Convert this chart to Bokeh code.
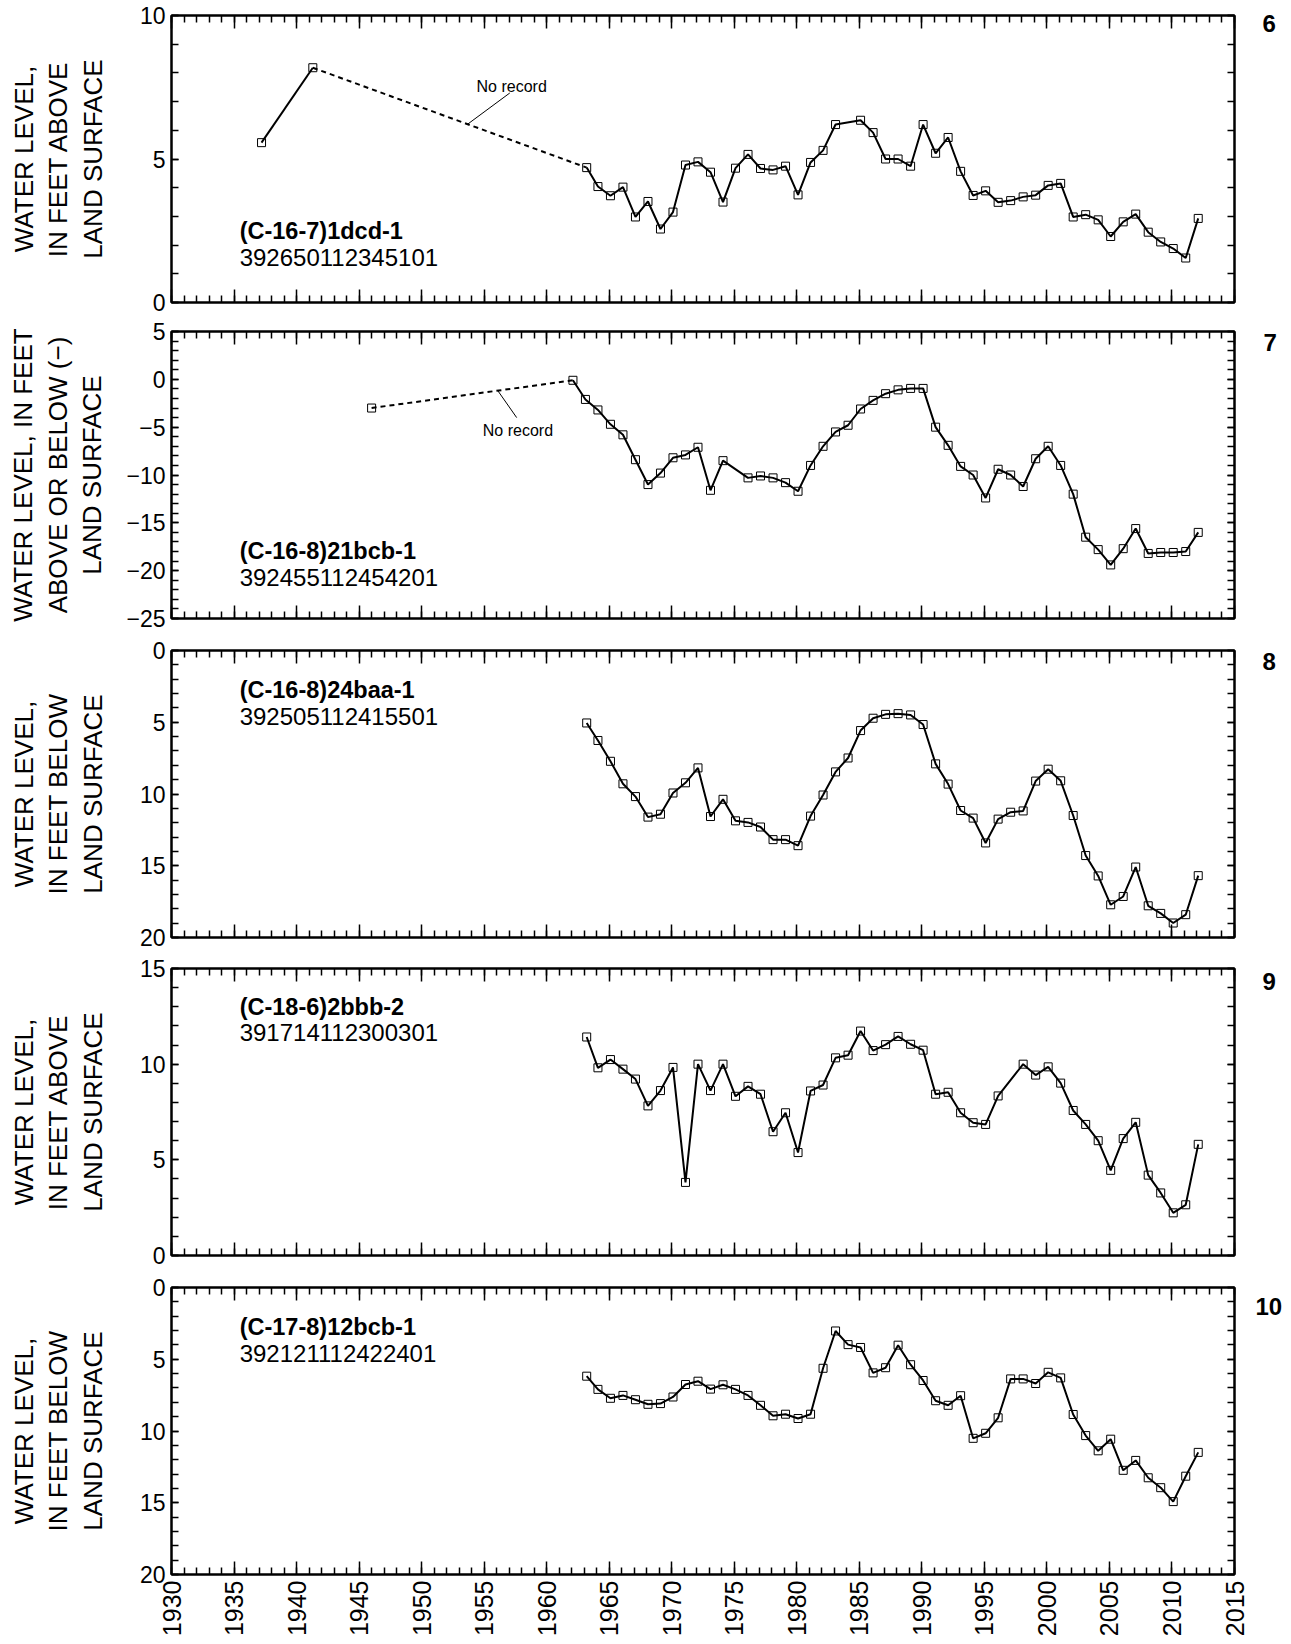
from bokeh.plotting import figure
from bokeh.models import (Range1d, LinearAxis, FixedTicker, CustomJSTickFormatter, Label,
                          CustomLabelingPolicy)
from bokeh.layouts import column
from bokeh.embed import file_html
from bokeh.resources import INLINE
from math import pi

FONT = "Liberation Sans"

# ---------------- data ----------------
year_ticks = [1930, 1935, 1940, 1945, 1950, 1955, 1960, 1965, 1970, 1975,
              1980, 1985, 1990, 1995, 2000, 2005, 2010, 2015]
year_minor = list(range(1930, 2016))

# Panel 6: (C-16-7)1dcd-1
years6 = [1937.2, 1941.3,
          1963.2, 1964.1, 1965.1, 1966.1, 1967.1, 1968.1, 1969.1, 1970.1, 1971.1, 1972.1,
          1973.1, 1974.1, 1975.1, 1976.1, 1977.1, 1978.1, 1979.1, 1980.1, 1981.1, 1982.1,
          1983.1, 1985.1, 1986.1, 1987.1, 1988.1, 1989.1, 1990.1, 1991.1, 1992.1, 1993.1,
          1994.1, 1995.1, 1996.1, 1997.1, 1998.1, 1999.1, 2000.1, 2001.1, 2002.1, 2003.1,
          2004.1, 2005.1, 2006.1, 2007.1, 2008.1, 2009.1, 2010.1, 2011.1, 2012.1]
level6 = [5.57, 8.18,
          4.70, 4.04, 3.72, 4.02, 2.98, 3.52, 2.56, 3.15, 4.79, 4.90,
          4.54, 3.50, 4.68, 5.16, 4.67, 4.62, 4.75, 3.75, 4.88, 5.30,
          6.20, 6.35, 5.92, 5.00, 5.00, 4.75, 6.20, 5.20, 5.75, 4.57,
          3.73, 3.89, 3.49, 3.55, 3.68, 3.74, 4.08, 4.15, 2.98, 3.06,
          2.88, 2.30, 2.81, 3.08, 2.45, 2.11, 1.88, 1.55, 2.93]

# Panel 7: (C-16-8)21bcb-1
years7 = [1946.0, 1962.1,
          1963.1, 1964.1, 1965.1, 1966.1, 1967.1, 1968.1, 1969.1, 1970.1, 1971.1, 1972.1,
          1973.1, 1974.1, 1976.1, 1977.1, 1978.1, 1979.1, 1980.1, 1981.1, 1982.1, 1983.1,
          1984.1, 1985.1, 1986.1, 1987.1, 1988.1, 1989.1, 1990.1, 1991.1, 1992.1, 1993.1,
          1994.1, 1995.1, 1996.1, 1997.1, 1998.1, 1999.1, 2000.1, 2001.1, 2002.1, 2003.1,
          2004.1, 2005.1, 2006.1, 2007.1, 2008.1, 2009.1, 2010.1, 2011.1, 2012.1]
level7 = [-3.0, -0.1,
          -2.1, -3.2, -4.7, -5.8, -8.4, -11.0, -9.8, -8.2, -7.9, -7.1,
          -11.6, -8.5, -10.3, -10.1, -10.3, -10.8, -11.7, -9.0, -7.0, -5.5,
          -4.8, -3.1, -2.2, -1.5, -1.1, -0.95, -0.95, -5.0, -6.9, -9.1,
          -10.0, -12.4, -9.4, -10.0, -11.2, -8.3, -7.0, -9.0, -12.0, -16.5,
          -17.8, -19.4, -17.7, -15.6, -18.2, -18.1, -18.1, -18.0, -16.0]

# Panel 8: (C-16-8)24baa-1 (depth below land surface)
years8 = [1963.2, 1964.1, 1965.1, 1966.1, 1967.1, 1968.1, 1969.1, 1970.1, 1971.1, 1972.1,
          1973.1, 1974.1, 1975.1, 1976.1, 1977.1, 1978.1, 1979.1, 1980.1, 1981.1, 1982.1,
          1983.1, 1984.1, 1985.1, 1986.1, 1987.1, 1988.1, 1989.1, 1990.1, 1991.1, 1992.1,
          1993.1, 1994.1, 1995.1, 1996.1, 1997.1, 1998.1, 1999.1, 2000.1, 2001.1, 2002.1,
          2003.1, 2004.1, 2005.1, 2006.1, 2007.1, 2008.1, 2009.1, 2010.1, 2011.1, 2012.1]
level8 = [5.05, 6.27, 7.72, 9.29, 10.18, 11.61, 11.41, 9.93, 9.22, 8.18,
          11.57, 10.37, 11.87, 11.98, 12.30, 13.18, 13.18, 13.60, 11.54, 10.07,
          8.46, 7.49, 5.58, 4.72, 4.45, 4.40, 4.49, 5.16, 7.90, 9.31,
          11.15, 11.68, 13.41, 11.75, 11.27, 11.18, 9.10, 8.27, 9.08, 11.50,
          14.29, 15.71, 17.72, 17.14, 15.09, 17.79, 18.32, 18.99, 18.41, 15.69]

# Panel 9: (C-18-6)2bbb-2
years9 = [1963.2, 1964.1, 1965.1, 1966.1, 1967.1, 1968.1, 1969.1, 1970.1, 1971.1, 1972.1,
          1973.1, 1974.1, 1975.1, 1976.1, 1977.1, 1978.1, 1979.1, 1980.1, 1981.1, 1982.1,
          1983.1, 1984.1, 1985.1, 1986.1, 1987.1, 1988.1, 1989.1, 1990.1, 1991.1, 1992.1,
          1993.1, 1994.1, 1995.1, 1996.1, 1998.1, 1999.1, 2000.1, 2001.1, 2002.1,
          2003.1, 2004.1, 2005.1, 2006.1, 2007.1, 2008.1, 2009.1, 2010.1, 2011.1, 2012.1]
level9 = [11.42, 9.81, 10.24, 9.74, 9.22, 7.82, 8.62, 9.83, 3.82, 10.00,
          8.62, 10.00, 8.32, 8.84, 8.43, 6.47, 7.46, 5.38, 8.60, 8.91,
          10.33, 10.47, 11.73, 10.71, 11.02, 11.45, 11.04, 10.73, 8.43, 8.53,
          7.46, 6.94, 6.85, 8.34, 10.00, 9.43, 9.86, 9.01, 7.58,
          6.85, 6.00, 4.45, 6.11, 6.96, 4.20, 3.27, 2.23, 2.65, 5.81]

# Panel 10: (C-17-8)12bcb-1 (depth below land surface)
years10 = [1963.2, 1964.1, 1965.1, 1966.1, 1967.1, 1968.1, 1969.1, 1970.1, 1971.1, 1972.1,
           1973.1, 1974.1, 1975.1, 1976.1, 1977.1, 1978.1, 1979.1, 1980.1, 1981.1, 1982.1,
           1983.1, 1984.1, 1985.1, 1986.1, 1987.1, 1988.1, 1989.1, 1990.1, 1991.1, 1992.1,
           1993.1, 1994.1, 1995.1, 1996.1, 1997.1, 1998.1, 1999.1, 2000.1, 2001.1, 2002.1,
           2003.1, 2004.1, 2005.1, 2006.1, 2007.1, 2008.1, 2009.1, 2010.1, 2011.1, 2012.1]
level10 = [6.18, 7.10, 7.72, 7.52, 7.82, 8.14, 8.09, 7.63, 6.76, 6.53,
           7.08, 6.78, 7.10, 7.52, 8.21, 8.94, 8.83, 9.13, 8.83, 5.63,
           3.03, 3.98, 4.18, 5.95, 5.59, 4.02, 5.38, 6.48, 7.89, 8.21,
           7.54, 10.51, 10.16, 9.08, 6.37, 6.37, 6.69, 5.91, 6.30, 8.85,
           10.32, 11.38, 10.57, 12.74, 12.05, 13.26, 13.95, 14.92, 13.15, 11.49]

panel_numbers = ["6", "7", "8", "9", "10"]
station_names = ["(C-16-7)1dcd-1", "(C-16-8)21bcb-1", "(C-16-8)24baa-1",
                 "(C-18-6)2bbb-2", "(C-17-8)12bcb-1"]
station_ids = ["392650112345101", "392455112454201", "392505112415501",
               "391714112300301", "392121112422401"]
y_labels = ["WATER LEVEL,\nIN FEET ABOVE\nLAND SURFACE",
            "WATER LEVEL, IN FEET\nABOVE OR BELOW (\u2212)\nLAND SURFACE",
            "WATER LEVEL,\nIN FEET BELOW\nLAND SURFACE",
            "WATER LEVEL,\nIN FEET ABOVE\nLAND SURFACE",
            "WATER LEVEL,\nIN FEET BELOW\nLAND SURFACE"]

TICK_FS = "23px"
minus_fmt = "return tick < 0 ? '\\u2212' + (-tick) : '' + tick;"
HIDE_ALL = "for (const i of indices) indices.unset(i)"


def hide_labels(ax):
    ax.major_label_policy = CustomLabelingPolicy(code=HIDE_ALL)
    ax.major_label_text_font_size = "1px"
    ax.major_label_standoff = 0


def make_panel(y_bottom, y_top, y_major, y_minor, ylabel, top_b, bottom_b,
               label_standoff, show_x, fh, num_text, num_pos, num_standoff):
    p = figure(frame_width=1063, frame_height=fh,
               x_range=Range1d(1930, 2015), y_range=Range1d(y_bottom, y_top),
               output_backend="svg", toolbar_location=None,
               min_border_left=171, min_border_right=50,
               min_border_top=top_b, min_border_bottom=bottom_b,
               x_axis_location=None, y_axis_location=None)
    p.grid.visible = False
    p.outline_line_color = "black"
    p.outline_line_width = 2
    p.background_fill_color = "white"
    p.border_fill_color = "white"

    xt = FixedTicker(ticks=year_ticks, minor_ticks=year_minor)
    yt = FixedTicker(ticks=y_major, minor_ticks=y_minor)

    for loc in ("below", "above"):
        ax = LinearAxis(ticker=xt)
        ax.axis_line_width = 2
        ax.major_tick_in = 13
        ax.major_tick_out = 0
        ax.minor_tick_in = 7
        ax.minor_tick_out = 0
        ax.major_tick_line_width = 1.5
        ax.minor_tick_line_width = 1.5
        if loc == "below" and show_x:
            ax.major_label_text_font = FONT
            ax.major_label_text_font_size = "25px"
            ax.major_label_text_color = "black"
            ax.major_label_orientation = pi / 2
            ax.major_label_standoff = 6
        else:
            hide_labels(ax)
        p.add_layout(ax, loc)

    for loc in ("left", "right"):
        ax = LinearAxis(ticker=yt)
        ax.axis_line_width = 2
        ax.major_tick_in = 7
        ax.major_tick_out = 0
        ax.minor_tick_in = 7
        ax.minor_tick_out = 0
        ax.major_tick_line_width = 1.5
        ax.minor_tick_line_width = 1.5
        if loc == "left":
            ax.formatter = CustomJSTickFormatter(code=minus_fmt)
            ax.major_label_text_font = FONT
            ax.major_label_text_font_size = TICK_FS
            ax.major_label_text_color = "black"
            ax.major_label_standoff = 6
            ax.axis_label = ylabel
            ax.axis_label_text_font = FONT
            ax.axis_label_text_font_size = "26px"
            ax.axis_label_text_font_style = "normal"
            ax.axis_label_text_color = "black"
            ax.axis_label_text_line_height = 1.15
            ax.axis_label_standoff = label_standoff
        else:
            hide_labels(ax)
        p.add_layout(ax, loc)

    # panel (figure) number shown to the right of the frame
    nax = LinearAxis(ticker=FixedTicker(ticks=[num_pos], minor_ticks=[]),
                     formatter=CustomJSTickFormatter(code="return '%s';" % num_text))
    nax.axis_line_color = None
    nax.major_tick_line_color = None
    nax.minor_tick_line_color = None
    nax.major_label_text_font = FONT
    nax.major_label_text_font_size = "24px"
    nax.major_label_text_font_style = "bold"
    nax.major_label_text_color = "black"
    nax.major_label_standoff = num_standoff
    p.add_layout(nax, "right")
    return p


def add_station(p, idx, y_name, y_id):
    p.add_layout(Label(x=1935.45, y=y_name, text=station_names[idx], text_font=FONT,
                       text_font_size="23.5px", text_font_style="bold",
                       text_baseline="alphabetic", text_color="black"))
    p.add_layout(Label(x=1935.45, y=y_id, text=station_ids[idx], text_font=FONT,
                       text_font_size="24px", text_baseline="alphabetic",
                       text_color="black"))


def draw_series(p, xs, ys, solid_from):
    p.line(xs[solid_from:], ys[solid_from:], line_color="black", line_width=2)
    p.scatter(xs, ys, marker="square", size=8, fill_alpha=0,
              line_color="black", line_width=1)


def no_record(p, xs, ys, i0, i1, leader, text_xy):
    p.line(xs[i0:i1 + 1], ys[i0:i1 + 1], line_color="black", line_width=2,
           line_dash="5 4")
    p.segment(x0=[leader[0]], y0=[leader[1]], x1=[leader[2]], y1=[leader[3]],
              line_color="black", line_width=1)
    p.add_layout(Label(x=text_xy[0], y=text_xy[1], text="No record", text_font=FONT,
                       text_font_size="16px", text_align="center",
                       text_baseline="alphabetic", text_color="black"))


# ---- panel 6
p6 = make_panel(0, 10, [0, 5, 10], list(range(0, 11)), y_labels[0], 15, 14, 29, False,
                287, panel_numbers[0], 9.72, 18)
draw_series(p6, years6, level6, 2)
p6.line(years6[0:2], level6[0:2], line_color="black", line_width=2)
no_record(p6, years6, level6, 1, 2, (1953.7, 6.22, 1957.05, 7.3), (1957.2, 7.54))
add_station(p6, 0, 2.48, 1.56)

# ---- panel 7
p7 = make_panel(-25, 5, [-25, -20, -15, -10, -5, 0, 5], list(range(-25, 6)),
                y_labels[1], 15, 16, 16, False, 287, panel_numbers[1], 3.8, 18)
draw_series(p7, years7, level7, 1)
no_record(p7, years7, level7, 0, 1, (1956.1, -1.2, 1957.6, -4.0), (1957.7, -5.3))
add_station(p7, 1, -17.9, -20.7)

# ---- panel 8 (inverted)
p8 = make_panel(20, 0, [0, 5, 10, 15, 20], list(range(0, 21)), y_labels[2], 16, 15, 29,
                False, 287, panel_numbers[2], 0.8, 18)
draw_series(p8, years8, level8, 0)
add_station(p8, 2, 2.72, 4.57)

# ---- panel 9
p9 = make_panel(0, 15, [0, 5, 10, 15], list(range(0, 16)), y_labels[3], 16, 16, 29,
                False, 287, panel_numbers[3], 14.3, 18)
draw_series(p9, years9, level9, 0)
add_station(p9, 3, 12.98, 11.63)

# ---- panel 10 (inverted)
p10 = make_panel(20, 0, [0, 5, 10, 15, 20], list(range(0, 21)), y_labels[4], 16, 58, 29,
                 True, 287, panel_numbers[4], 1.3, 11)
draw_series(p10, years10, level10, 0)
add_station(p10, 4, 2.76, 4.61)

layout = column(p6, p7, p8, p9, p10, spacing=0)
open("out.html", "w").write(file_html(layout, INLINE))
